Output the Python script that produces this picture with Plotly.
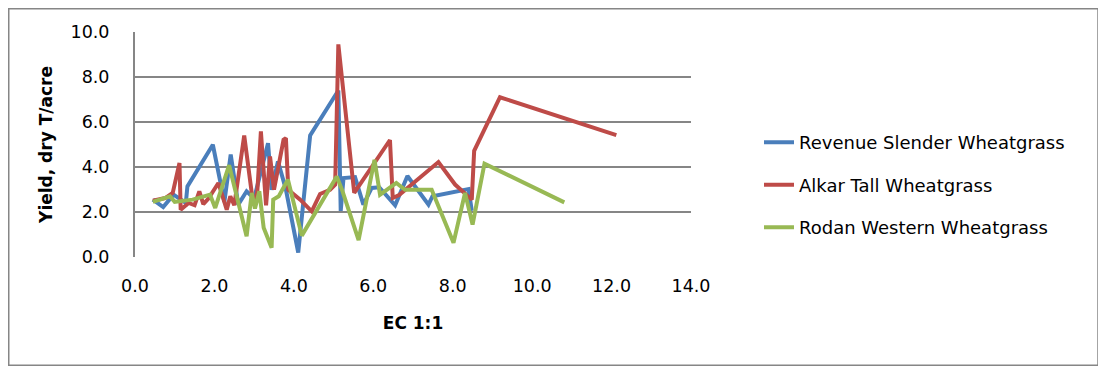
import plotly.graph_objects as go

# Revenue Slender Wheatgrass
rev_x = [0.45, 0.71, 0.97, 1.28, 1.32, 1.96, 2.25, 2.41, 2.60, 2.81, 3.00, 3.35, 3.44, 3.60, 3.80,
         4.11, 4.41, 5.12, 5.18, 5.25, 5.54, 5.75, 5.96, 6.15, 6.55, 6.86, 7.39, 7.49, 8.40, 8.48]
rev_y = [2.55, 2.22, 2.77, 2.40, 3.14, 4.99, 2.45, 4.55, 2.33, 2.92, 2.60, 5.06, 2.99, 4.25, 3.00,
         0.20, 5.40, 7.40, 2.05, 3.51, 3.55, 2.33, 3.07, 3.10, 2.30, 3.60, 2.33, 2.70, 3.02, 2.05]

# Alkar Tall Wheatgrass
alk_x = [0.45, 0.76, 0.95, 1.12, 1.15, 1.35, 1.50, 1.62, 1.72, 1.85, 2.10, 2.31, 2.40, 2.50, 2.75,
         2.98, 3.08, 3.17, 3.30, 3.40, 3.50, 3.74, 3.80, 3.86, 4.16, 4.45, 4.66, 4.91, 5.04, 5.12,
         5.52, 6.42, 6.49, 6.65, 7.64, 8.06, 8.48, 8.54, 9.19, 12.12]
alk_y = [2.50, 2.62, 2.85, 4.18, 2.10, 2.40, 2.30, 2.92, 2.35, 2.60, 3.29, 2.10, 2.70, 2.30, 5.40,
         2.30, 2.90, 5.58, 2.30, 4.47, 2.99, 5.21, 5.28, 2.99, 2.55, 2.03, 2.80, 2.99, 3.22, 9.45,
         2.85, 5.20, 2.62, 2.75, 4.22, 3.22, 2.55, 4.72, 7.10, 5.42]

# Rodan Western Wheatgrass
rod_x = [0.45, 0.88, 1.00, 1.45, 1.89, 2.02, 2.37, 2.81, 2.94, 3.02, 3.13, 3.24, 3.44, 3.48, 3.62,
         3.85, 4.20, 5.08, 5.22, 5.63, 6.03, 6.17, 6.58, 6.80, 7.47, 8.02, 8.31, 8.50, 8.80, 10.81]
rod_y = [2.45, 2.70, 2.45, 2.55, 2.77, 2.18, 4.08, 0.92, 2.85, 2.15, 2.92, 1.30, 0.41, 2.55, 2.70,
         3.44, 0.95, 3.58, 2.95, 0.75, 4.32, 2.77, 3.29, 2.99, 2.99, 0.63, 2.85, 1.44, 4.15, 2.43]

series_names = ["Revenue Slender Wheatgrass", "Alkar Tall Wheatgrass", "Rodan Western Wheatgrass"]
series_colors = ["#4A7EBB", "#BE4B48", "#98B954"]

x_ticks = [0, 2, 4, 6, 8, 10, 12, 14]
y_ticks = [0, 2, 4, 6, 8, 10]

FONT = "DejaVu Sans"
GRID = "#868686"

fig = go.Figure()
for i, (xs, ys) in enumerate([(rev_x, rev_y), (alk_x, alk_y), (rod_x, rod_y)]):
    fig.add_trace(go.Scatter(
        x=xs, y=ys, mode="lines", name=series_names[i],
        legendgroup=f"g{i}",
        line=dict(color=series_colors[i], width=4, shape="linear"),
    ))

# the page body has an 8px margin, so figure coords = page coords - 8
OFF = 8
W, H = 1106 - OFF, 373 - OFF
L, R, T, B = 135 - OFF, 691 - OFF, 32 - OFF, 257.5 - OFF
fig.update_layout(
    width=W, height=H, autosize=False,
    margin=dict(l=L, r=W - R, t=T, b=H - B, pad=0, autoexpand=False),
    paper_bgcolor="white", plot_bgcolor="white",
    font=dict(family=FONT, size=17, color="#000000"),
    showlegend=True,
    legend=dict(
        x=(759 - OFF - L) / (R - L), xanchor="left",
        y=(B - (185.5 - OFF)) / (B - T), yanchor="middle",
        traceorder="grouped", tracegroupgap=16,
        font=dict(family=FONT, size=18, color="#000000"),
        bgcolor="rgba(0,0,0,0)", borderwidth=0,
    ),
    xaxis=dict(
        range=[0, 14], tickvals=x_ticks, ticktext=[f"{v:.1f}" for v in x_ticks],
        showgrid=False, zeroline=False, showline=False,
        ticks="", ticklabelstandoff=16, automargin=False,
        title=dict(text="<b>EC 1:1</b>", font=dict(family=FONT, size=17), standoff=22),
        tickfont=dict(family=FONT, size=17.5),
    ),
    yaxis=dict(
        range=[0, 10], tickvals=y_ticks, ticktext=[f"{v:.1f}" for v in y_ticks],
        showgrid=True, gridcolor=GRID, gridwidth=2,
        zeroline=False, showline=True, linecolor=GRID, linewidth=2,
        ticks="", ticklabelstandoff=20, automargin=False,
        title=dict(text="<b>Yield, dry T/acre</b>", font=dict(family=FONT, size=17), standoff=14),
        tickfont=dict(family=FONT, size=17.5),
    ),
    shapes=[dict(
        type="rect", xref="paper", yref="paper",
        x0=(0.75 - L) / (R - L), x1=(1098 - OFF - L) / (R - L),
        y0=(B - (366 - OFF)) / (B - T), y1=(B - 0.75) / (B - T),
        line=dict(color=GRID, width=1.5), fillcolor="rgba(0,0,0,0)", layer="below",
    )],
)

fig.write_html("out.html")
